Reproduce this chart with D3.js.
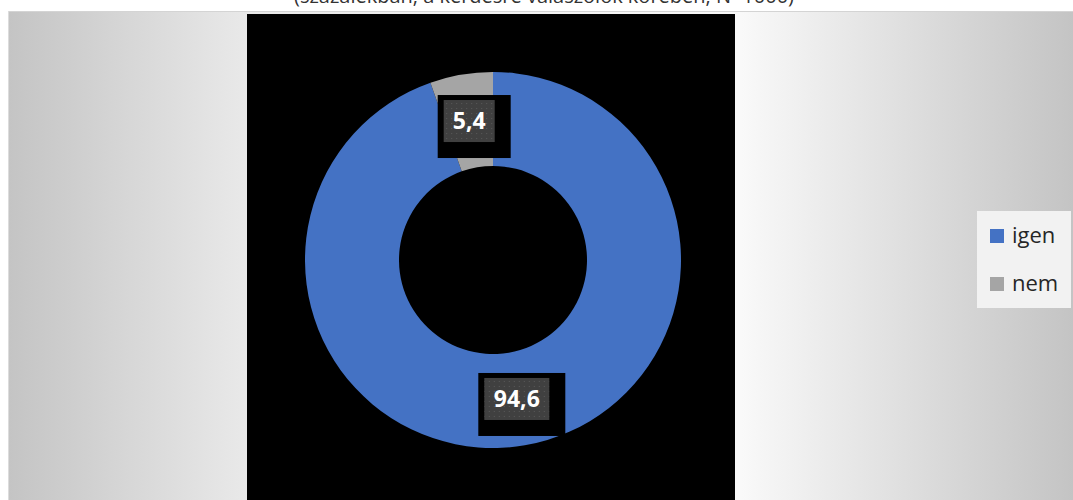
<!DOCTYPE html>
<html><head><meta charset="utf-8">
<script src="https://cdn.jsdelivr.net/npm/d3@7"></script>
<style>html,body{margin:0;padding:0;background:#fff;overflow:hidden}svg{display:block}</style>
</head><body>
<script>
const categories = ["igen", "nem"];
const values = [94.6, 5.4];
const labels = ["94,6", "5,4"];
const colors = ["#4472C4", "#A5A5A5"];
const title = "(százalékban, a kérdésre válaszolók körében, N=1000)";

const W = 1073, H = 500;
const svg = d3.select("body").append("svg").attr("width", W).attr("height", H);
const defs = svg.append("defs");
const grad = defs.append("linearGradient").attr("id", "bg").attr("gradientUnits", "userSpaceOnUse")
  .attr("x1", 8).attr("y1", 0).attr("x2", 1073).attr("y2", 0);
grad.append("stop").attr("offset", 0).attr("stop-color", "#c4c4c4");
grad.append("stop").attr("offset", 0.224).attr("stop-color", "#e9e9e9");
grad.append("stop").attr("offset", 0.688).attr("stop-color", "#f9f9f9");
grad.append("stop").attr("offset", 1).attr("stop-color", "#c4c4c4");

const pat = defs.append("pattern").attr("id", "dots").attr("patternUnits", "userSpaceOnUse")
  .attr("width", 5).attr("height", 5);
pat.append("rect").attr("width", 5).attr("height", 5).attr("fill", "#404040");
pat.append("rect").attr("x", 2).attr("y", 2).attr("width", 1).attr("height", 1).attr("fill", "#5a5a5a");

// title (cut off at top)
svg.append("text").attr("x", 544).attr("y", 3).attr("text-anchor", "middle")
  .attr("font-family", "Open Sans").attr("font-size", 20).attr("fill", "#333")
  .attr("textLength", 500).attr("lengthAdjust", "spacingAndGlyphs").text(title);

// panel
svg.append("rect").attr("x", 8).attr("y", 11).attr("width", W - 8).attr("height", H - 11).attr("fill", "url(#bg)");
svg.append("line").attr("x1", 8).attr("x2", W).attr("y1", 11.5).attr("y2", 11.5).attr("stroke", "#d4d4d4");
svg.append("line").attr("x1", 8.5).attr("x2", 8.5).attr("y1", 11).attr("y2", H).attr("stroke", "#dcdcdc");

// plot area
svg.append("rect").attr("x", 247).attr("y", 14).attr("width", 488).attr("height", H - 14).attr("fill", "#000");

const cx = 493, cy = 260, rO = 188, rI = 94;
const pie = d3.pie().sort(null).value(d => d.v);
const data = pie(categories.map((c, i) => ({c, v: values[i], l: labels[i], col: colors[i]})));
const arc = d3.arc().innerRadius(rI).outerRadius(rO);
const g = svg.append("g").attr("transform", `translate(${cx},${cy})`);
g.selectAll("path").data(data).enter().append("path")
  .attr("d", arc).attr("fill", d => d.data.col);

// labels
const lg = g.selectAll("g.lab").data(data).enter().append("g").attr("class", "lab")
  .attr("transform", d => { const [x, y] = arc.centroid(d); return `translate(${x},${y})`; });
lg.each(function(d) {
  const s = d3.select(this);
  const bw = d.data.l.length > 3 ? 65 : 51, bh = 42;
  s.append("rect").attr("x", -bw / 2 - 6).attr("y", -bh / 2 - 5).attr("width", bw + 22).attr("height", bh + 21).attr("fill", "#000");
  s.append("rect").attr("x", -bw / 2).attr("y", -bh / 2).attr("width", bw).attr("height", bh).attr("fill", "url(#dots)");
  s.append("text").attr("text-anchor", "middle").attr("dy", "0.36em")
    .attr("font-family", "Open Sans").attr("font-weight", "bold").attr("font-size", 23)
    .attr("fill", "#fff").text(d.data.l);
});

// legend
svg.append("rect").attr("x", 977).attr("y", 211).attr("width", 94).attr("height", 97).attr("fill", "#f2f2f2");
const leg = svg.selectAll("g.leg").data(categories).enter().append("g").attr("class", "leg")
  .attr("transform", (d, i) => `translate(990,${229 + i * 48})`);
leg.append("rect").attr("width", 14).attr("height", 14).attr("fill", (d, i) => colors[i]);
leg.append("text").attr("x", 22).attr("y", 14).attr("font-family", "Open Sans").attr("font-size", 22)
  .attr("fill", "#262626").text(d => d);
</script>
</body></html>
